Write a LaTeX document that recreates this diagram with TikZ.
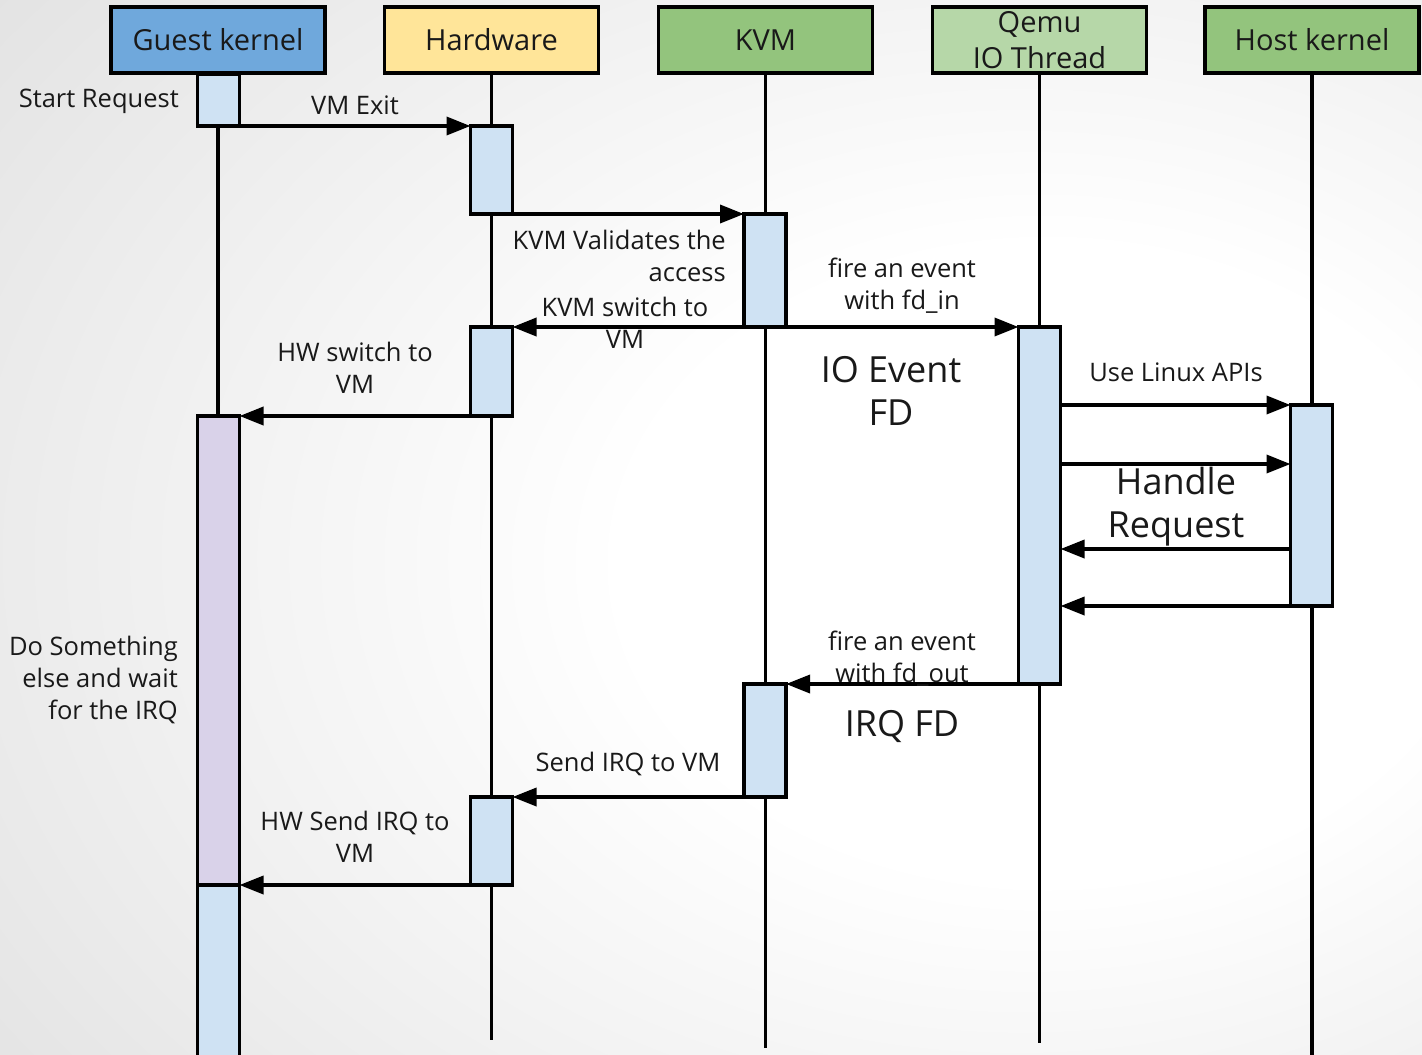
\documentclass[tikz,border=0pt]{standalone}
\usepackage{fontspec}
\setmainfont{Open Sans}
\usetikzlibrary{arrows.meta,calc}
\definecolor{gkc}{HTML}{6FA8DC}
\definecolor{hwc}{HTML}{FFE599}
\definecolor{kvc}{HTML}{93C47D}
\definecolor{qmc}{HTML}{B6D7A8}
\definecolor{actc}{HTML}{CFE2F3}
\definecolor{purc}{HTML}{D9D2E9}
\definecolor{bgc}{HTML}{C9C9C9}
\pgfdeclareradialshading{bgshade}{\pgfpoint{14bp}{-2bp}}{color(0bp)=(white); color(15bp)=(white); color(68bp)=(bgc); color(100bp)=(bgc)}
\begin{document}
\begin{tikzpicture}[x=1pt,y=-1pt,
  head/.style={draw, line width=3.5pt, minimum width=214pt, minimum height=66pt, inner sep=0pt, outer sep=0pt, font=\fontsize{29}{36}\selectfont, align=center, text=black!90},
  act/.style={draw, line width=3.5pt, fill=actc, minimum width=42pt, inner sep=0pt, outer sep=0pt},
  msg/.style={line width=3.5pt, -{Triangle[length=24pt,width=18pt]}},
  life/.style={line width=3.5pt},
  lbl/.style={font=\fontsize{25.5}{32}\selectfont, align=center, inner sep=0pt, text=black!90},
  big/.style={font=\fontsize{36}{43}\selectfont, align=center, inner sep=0pt, text=black!90}]
\useasboundingbox (0,0) rectangle (1422,1055);
\shade[shading=bgshade] (0,0) rectangle (1422,1055);

% headers
\node[head, fill=gkc] (g) at (218,40) {Guest kernel};
\node[head, fill=hwc] (h) at (491.5,40) {Hardware};
\node[head, fill=kvc] (k) at (765.5,40) {KVM};
\node[head, fill=qmc] (q) at (1039.5,40) {Qemu\\IO Thread};
\node[head, fill=kvc] (o) at (1312,40) {Host kernel};

% lifeline ends
\coordinate (gend) at (218,1070);
\coordinate (hend) at (491.5,1040);
\coordinate (kend) at (765.5,1048);
\coordinate (qend) at (1039.5,1043);
\coordinate (oend) at (1312,1070);
\draw[life] (g.south) -- (gend);
\draw[life] (h.south) -- (hend);
\draw[life] (k.south) -- (kend);
\draw[life] (q.south) -- (qend);
\draw[life] (o.south) -- (oend);

% activation boxes
\node[act, minimum height=52pt] (ga1) at (218.5,100) {};
\node[act, minimum height=88pt] (ha1) at (491.5,170) {};
\node[act, minimum height=113pt] (ka1) at (765,270.5) {};
\node[act, minimum height=89pt] (ha2) at (491.5,371.5) {};
\node[act, fill=purc, minimum height=469pt] (gp) at (218.5,650.5) {};
\node[act, minimum height=357pt] (qa) at (1039.5,505.5) {};
\node[act, minimum height=201pt] (hk) at (1311.5,505.5) {};
\node[act, minimum height=113pt] (ka2) at (765,740.5) {};
\node[act, minimum height=88pt] (ha3) at (491.5,841) {};
\node[act, minimum height=185pt] (ga2) at (218.5,977.5) {};

% messages
\draw[msg] (ga1.south east) -- (ha1.north west);
\draw[msg] (ha1.south east) -- (ka1.north west);
\draw[msg] (ka1.south west) -- (ha2.north east);
\draw[msg] (ka1.south east) -- (qa.north west);
\draw[msg] (ha2.south west) -- (gp.north east);
\draw[msg] (hk.north west -| qa.east) -- (hk.north west);
\coordinate (m2) at (1290,464);
\coordinate (m3) at (1290,549);
\draw[msg] (m2 -| qa.east) -- (m2 -| hk.west);
\draw[msg] (m3 -| hk.west) -- (m3 -| qa.east);
\draw[msg] (hk.south west) -- (hk.south west -| qa.east);
\draw[msg] (qa.south west) -- (ka2.north east);
\draw[msg] (ka2.south west) -- (ha3.north east);
\draw[msg] (ha3.south west) -- (gp.south east);

% labels
\node[lbl, anchor=east] (l1) at (179,101) {Start Request};
\node[lbl] (l2) at (355,105) {VM Exit};
\node[lbl, anchor=east, align=right] (l3) at (726,256) {KVM Validates the\\access};
\node[lbl] (l4) at (625,323) {KVM switch to\\VM};
\node[lbl] (l5) at (902,286) {fire an event\\with fd\_in};
\node[big] (l6) at (891,391) {IO Event\\FD};
\node[lbl] (l7) at (355,368) {HW switch to\\VM};
\node[lbl] (l8) at (1176,372) {Use Linux APIs};
\node[big] (l9) at (1176,507) {Handle\\Request};
\node[lbl] (l10) at (902,659) {fire an event\\with fd\_out};
\node[big] (l11) at (902,726) {IRQ FD};
\node[lbl] (l12) at (628,764) {Send IRQ to VM};
\node[lbl] (l13) at (355,837) {HW Send IRQ to\\VM};
\node[lbl, anchor=east, align=right] (l14) at (178,680) {Do Something\\else and wait\\for the IRQ};
\end{tikzpicture}
\end{document}
